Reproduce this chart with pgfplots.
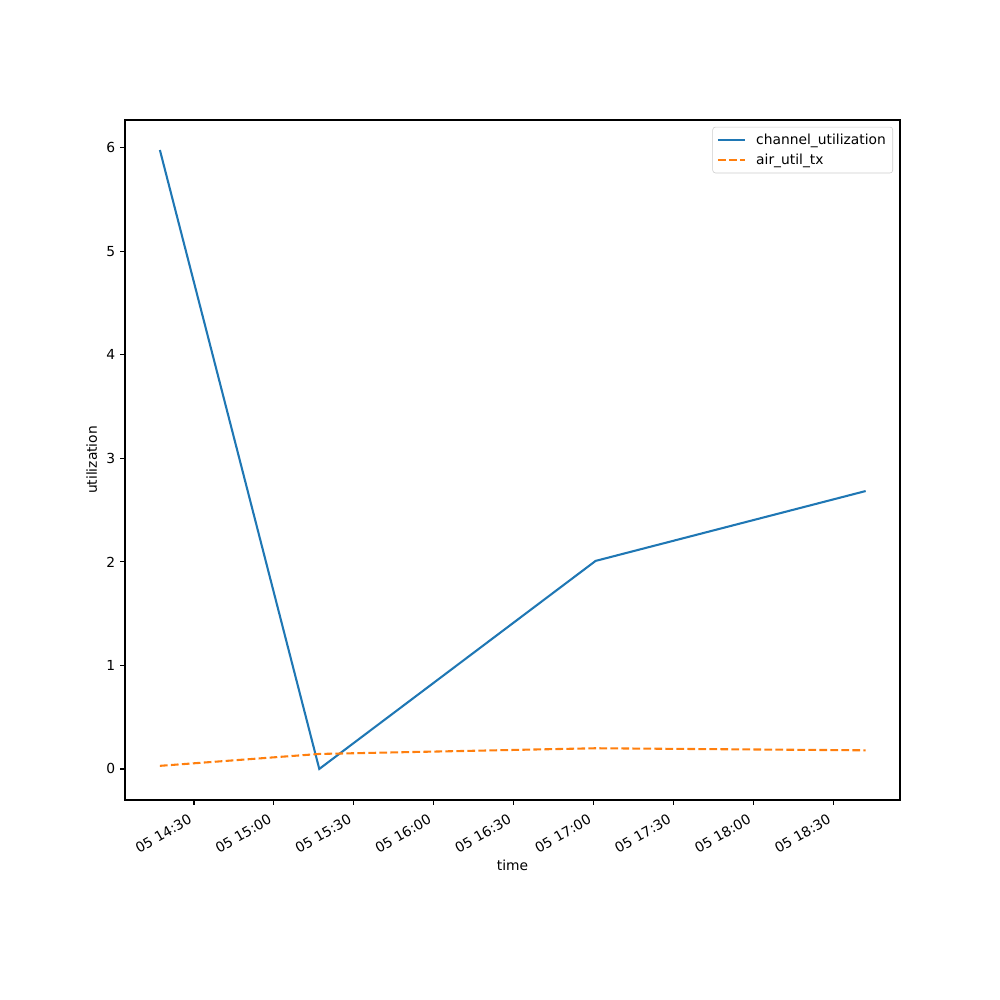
\documentclass[border=0pt]{standalone}
\usepackage{fontspec}
\setmainfont{DejaVu Sans}
\usepackage{pgfplots}
\pgfplotsset{compat=1.18}
\definecolor{tabblue}{HTML}{1F77B4}
\definecolor{taborange}{HTML}{FF7F0E}
\begin{document}
\fontsize{10}{12}\selectfont
\begin{tikzpicture}
\path[use as bounding box] (-1.25in,-2in) rectangle (8.75in,8in);
\begin{axis}[
  at={(0,0)}, anchor=south west,
  scale only axis, width=7.75in, height=6.8in,
  xmin=4.1, xmax=295.1, ymin=-0.3, ymax=6.27,
  axis line style={line width=0.8pt},
  tick align=outside, tick pos=left,
  major tick length=3.5pt,
  every tick/.style={line width=0.8pt, black},
  xtick={30,60,90,120,150,180,210,240,270},
  xticklabels={05 14:30,05 15:00,05 15:30,05 16:00,05 16:30,05 17:00,05 17:30,05 18:00,05 18:30},
  xticklabel style={rotate=30, anchor=north east, font=\fontsize{10}{12}\selectfont, inner sep=1pt, xshift=-6pt, yshift=-2pt},
  ytick={0,1,2,3,4,5,6},
  yticklabel style={font=\fontsize{10}{12}\selectfont},
  /pgf/number format/assume math mode=true,
  xlabel={time}, ylabel={utilization},
  label style={font=\fontsize{10}{12}\selectfont},
  legend style={at={(0.991,0.99)}, anchor=north east, draw=black!20, rounded corners=2pt,
    fill=white, fill opacity=0.8, text opacity=1, font=\fontsize{10}{12}\selectfont,
    inner sep=3pt, row sep=1pt},
  legend cell align=left,
  legend image code/.code={\draw[#1] (0cm,0cm) -- (0.7cm,0cm); \path (0.7cm+5pt,0cm);},
]
\addplot[color=tabblue, line width=1.5pt] coordinates {
 (17.2,5.98) (77.05,0.0) (180.8,2.01) (282.2,2.685)
};
\addlegendentry{channel\_utilization}
\addplot[color=taborange, line width=1.5pt, dash pattern=on 5.55pt off 2.4pt] coordinates {
 (17.2,0.03) (77.05,0.145) (180.8,0.2) (282.2,0.18)
};
\addlegendentry{air\_util\_tx}
\end{axis}
\end{tikzpicture}
\end{document}
